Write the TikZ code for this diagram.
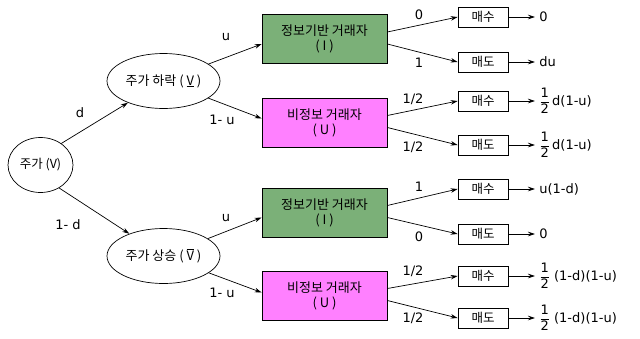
\documentclass[tikz,border=0pt]{standalone}
\usepackage{fontspec}
\setmainfont{DejaVu Sans}
\newfontfamily\kr{Noto Sans CJK KR}
\usetikzlibrary{arrows.meta,shapes.geometric}
\definecolor{igreen}{RGB}{123,176,120}
\definecolor{upink}{RGB}{255,128,255}
\newcommand\halfrac{$\displaystyle\frac{\mbox{1}}{\mbox{2}}$}
\begin{document}
\begin{tikzpicture}[x=1pt,y=-1pt,line width=0.7pt,
  font=\fontsize{13}{15}\selectfont,
  arr/.style={-{Stealth[length=7pt,width=4.5pt]}},
  ell/.style={draw, ellipse, inner sep=0pt, minimum width=113pt, minimum height=55pt, font=\kr\fontsize{13}{15}\selectfont},
  trader/.style={draw, minimum width=125pt, minimum height=49pt, inner sep=0pt, align=center, font=\kr\fontsize{13}{15}\selectfont},
  act/.style={draw, minimum width=50pt, minimum height=20pt, inner sep=0pt, font=\kr\fontsize{12.5}{14}\selectfont},
  res/.style={anchor=west, inner xsep=4pt, inner ysep=0pt},
  lab/.style={inner sep=0pt}]
\fill[white] (0,0) rectangle (640,338);
\useasboundingbox (0,0) rectangle (640,338);

% tree nodes
\node[ell, minimum width=65pt, minimum height=55pt, font=\kr\fontsize{12.5}{14}\selectfont] (root) at (40.5,165) {주가 (V)};
\node[ell] (dn) at (163.5,81) {주가 하락 ( \underline{V} )};
\node[ell] (up) at (163.5,256) {주가 상승 ( $\overline{\mbox{V}}$ )};

\node[trader, fill=igreen] (i1) at (324.5,39) {정보기반 거래자\\( I )};
\node[trader, fill=upink] (u1) at (324.5,122.5) {비정보 거래자\\( U )};
\node[trader, fill=igreen] (i2) at (324.5,212.5) {정보기반 거래자\\( I )};
\node[trader, fill=upink] (u2) at (324.5,295.5) {비정보 거래자\\( U )};

\node[act] (b1) at (483,17) {매수};
\node[act] (b2) at (483,62) {매도};
\node[act] (b3) at (483,101) {매수};
\node[act] (b4) at (483,145) {매도};
\node[act] (b5) at (483,189) {매수};
\node[act] (b6) at (483,234) {매도};
\node[act] (b7) at (483,276) {매수};
\node[act] (b8) at (483,318) {매도};

\node[res] (o1) at (535,17) {0};
\node[res] (o2) at (535,62) {du};
\node[res] (o3) at (535,101) {\halfrac\,d(1-u)};
\node[res] (o4) at (535,145) {\halfrac\,d(1-u)};
\node[res] (o5) at (535,189) {u(1-d)};
\node[res] (o6) at (535,234) {0};
\node[res] (o7) at (535,276) {\halfrac\ (1-d)(1-u)};
\node[res] (o8) at (535,318) {\halfrac\ (1-d)(1-u)};

% connectors
\draw[arr] (root.46) -- (dn);
\draw[arr] (root.-51) -- (up);
\draw[arr] (dn) -- ([yshift=-5pt]i1.west);
\draw[arr] (dn) -- ([yshift=4pt]u1.west);
\draw[arr] (up) -- ([yshift=-5pt]i2.west);
\draw[arr] (up) -- ([yshift=3pt]u2.west);

\draw[arr] ([yshift=7pt]i1.east) -- (b1.west);
\draw[arr] ([yshift=-5pt]i1.east) -- (b2.west);
\draw[arr] ([yshift=7pt]u1.east) -- (b3.west);
\draw[arr] ([yshift=-5pt]u1.east) -- (b4.west);
\draw[arr] ([yshift=7pt]i2.east) -- (b5.west);
\draw[arr] ([yshift=-5pt]i2.east) -- (b6.west);
\draw[arr] ([yshift=7pt]u2.east) -- (b7.west);
\draw[arr] ([yshift=-5pt]u2.east) -- (b8.west);

\foreach \k in {1,...,8} {\draw[arr] (b\k.east) -- (o\k.west);}

% labels
\node[lab] at (80,113) {d};
\node[lab] at (68,225) {1- d};
\node[lab] at (226,37) {u};
\node[lab] at (222,120) {1- u};
\node[lab] at (226,218) {u};
\node[lab] at (222,293) {1- u};

\node[lab] at (419,15) {0};
\node[lab] at (419,63) {1};
\node[lab] at (413,99) {1/2};
\node[lab] at (413,147) {1/2};
\node[lab] at (419,187) {1};
\node[lab] at (419,237) {0};
\node[lab] at (413,271) {1/2};
\node[lab] at (413,318) {1/2};
\end{tikzpicture}
\end{document}
